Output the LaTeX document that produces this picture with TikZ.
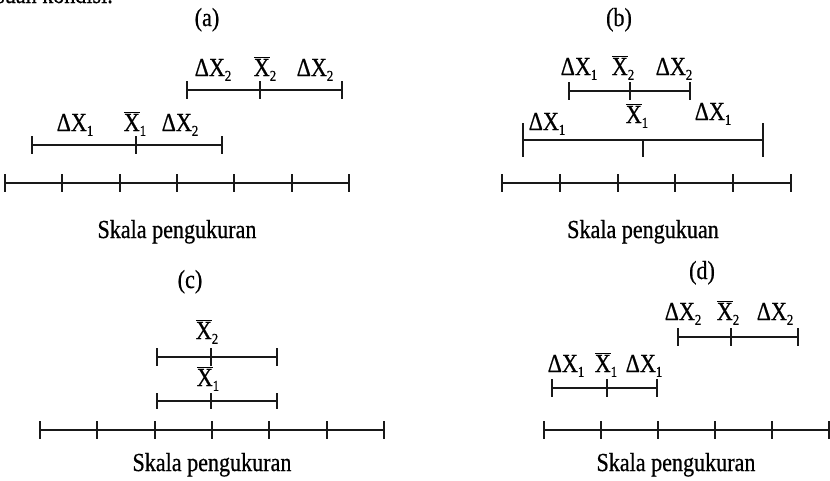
\documentclass[tikz,border=0pt]{standalone}
\usepackage{fontspec}
\setmainfont{Liberation Serif}[FakeBold=0.6, FakeStretch=0.85]
\newcommand\subs[1]{\raisebox{-0.4ex}{\fontsize{15}{15}\selectfont #1}}
\newcommand\dX[1]{ΔX\subs{#1}}
\newcommand\xb[1]{$\overline{\hbox{X}}$\subs{#1}}
\tikzset{
  txt/.style={inner sep=0pt, anchor=base, font=\fontsize{26}{30}\selectfont},
  lbl/.style={inner sep=0pt, anchor=base, font=\fontsize{26}{30}\selectfont},
  ln/.style={line width=1.8pt, color=black!90},
}
\newcommand\errbar[5]{% y, x1, xmid, x2, half tick
  \draw[ln] (#2,#1) -- (#4,#1);
  \draw[ln] (#2,#1-#5) -- (#2,#1+#5);
  \draw[ln] (#3,#1-#5) -- (#3,#1+#5);
  \draw[ln] (#4,#1-#5) -- (#4,#1+#5);
}
\begin{document}
\begin{tikzpicture}[x=1pt,y=-1pt]
\clip (0,0) rectangle (830,480);
\useasboundingbox (0,0) rectangle (830,480);
\fill[white] (0,0) rectangle (830,480);
\node[txt, anchor=base west] (top) at (-4,3) {suan kondisi.};
% (a)
\node[txt] (ta) at (207,26) {(a)};
\node[lbl] (a1) at (213,76) {\dX2};
\node[lbl] (a2) at (265,76) {\xb2};
\node[lbl] (a3) at (315,76) {\dX2};
\errbar{90}{187}{260}{342}{9}
\node[lbl] (a4) at (75,131) {\dX1};
\node[lbl] (a5) at (135,131) {\xb1};
\node[lbl] (a6) at (180,131) {\dX2};
\errbar{145}{32}{136}{222}{9}
\draw[ln] (5,183) -- (349,183);
\foreach \x in {5,62,120,177,234,292,349} \draw[ln] (\x,174) -- (\x,192);
\node[txt] (sa) at (177,238) {Skala pengukuran};
% (b)
\node[txt] (tb) at (619,26) {(b)};
\node[lbl] (b1) at (579,75) {\dX1};
\node[lbl] (b2) at (623,75) {\xb2};
\node[lbl] (b3) at (674,75) {\dX2};
\draw[ln] (569,91) -- (690,91);
\draw[ln] (569,82) -- (569,100);
\draw[ln] (630,82) -- (630,100);
\draw[ln] (690,82) -- (690,100);
\node[lbl] (b4) at (637,123) {\xb1};
\node[lbl] (b5) at (713,120) {\dX1};
\node[lbl] (b6) at (547,130) {\dX1};
\draw[ln] (523,140) -- (763,140);
\draw[ln] (523,123) -- (523,157);
\draw[ln] (763,123) -- (763,157);
\draw[ln] (643,140) -- (643,157);
\draw[ln] (502,183) -- (791,183);
\foreach \x in {502,560,618,675,733,791} \draw[ln] (\x,174) -- (\x,192);
\node[txt] (sb) at (643,238) {Skala pengukuan};
% (c)
\node[txt] (tc) at (190,288) {(c)};
\node[lbl] (c1) at (207,339) {\xb2};
\errbar{357}{157}{211}{277}{9}
\node[lbl] (c2) at (208,386) {\xb1};
\errbar{401}{157}{211}{277}{8}
\draw[ln] (40,430) -- (384,430);
\foreach \x in {40,97,155,212,269,327,384} \draw[ln] (\x,421) -- (\x,439);
\node[txt] (sc) at (212,471) {Skala pengukuran};
% (d)
\node[txt] (td) at (702,279) {(d)};
\node[lbl] (d1) at (683,320) {\dX2};
\node[lbl] (d2) at (728,320) {\xb2};
\node[lbl] (d3) at (775,320) {\dX2};
\errbar{337}{678}{731}{798}{9}
\node[lbl] (d4) at (566,372) {\dX1};
\node[lbl] (d5) at (606,372) {\xb1};
\node[lbl] (d6) at (644,372) {\dX1};
\errbar{388}{552}{607}{657}{9}
\draw[ln] (544,430) -- (830,430);
\foreach \x in {544,601,658,715,772,829} \draw[ln] (\x,421) -- (\x,439);
\node[txt] (sd) at (676,471) {Skala pengukuran};
\end{tikzpicture}
\end{document}
